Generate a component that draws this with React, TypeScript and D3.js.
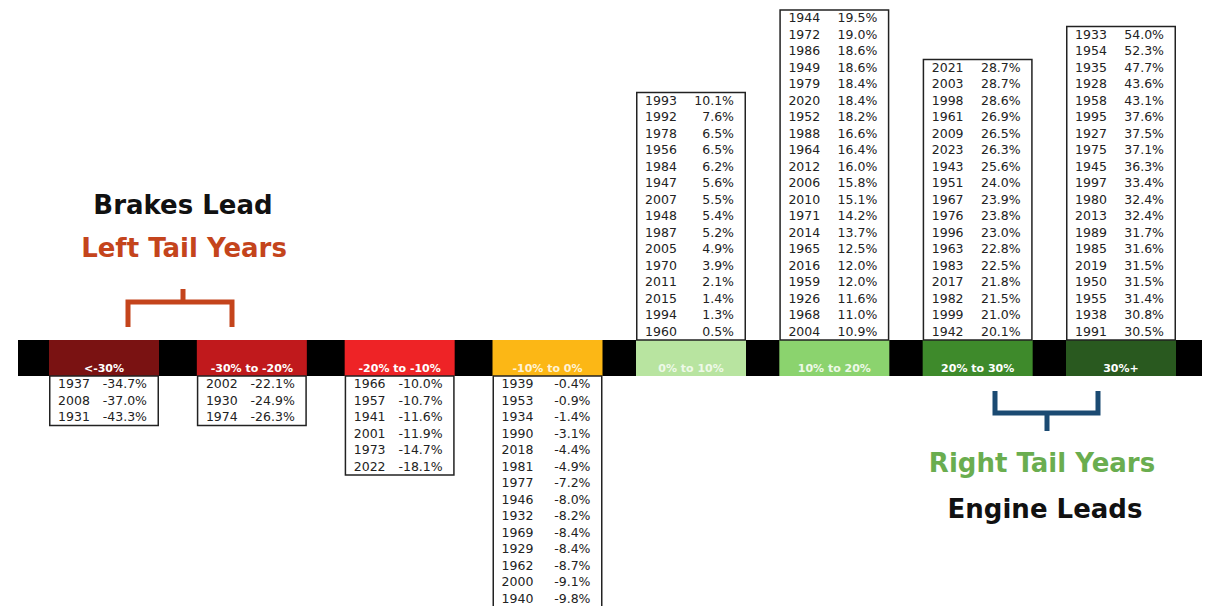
import React from "react";
import * as d3 from "d3";

const W = 1208;
const H = 606;

const categories = ["<-30%", "-30% to -20%", "-20% to -10%", "-10% to 0%", "0% to 10%", "10% to 20%", "20% to 30%", "30%+"];
const catColors = ["#7a1212", "#c0191c", "#ee2326", "#fcb715", "#b8e4a0", "#8bd36e", "#3e8a2b", "#29591f"];
const catTextColors = ["#ffffff", "#ffffff", "#ffffff", "#fff3d6", "#eef9e8", "#eef9e8", "#ffffff", "#ffffff"];

const yearsLt30 = [1937, 2008, 1931];
const retLt30 = [-34.7, -37.0, -43.3];
const years30to20 = [2002, 1930, 1974];
const ret30to20 = [-22.1, -24.9, -26.3];
const years20to10 = [1966, 1957, 1941, 2001, 1973, 2022];
const ret20to10 = [-10.0, -10.7, -11.6, -11.9, -14.7, -18.1];
const years10to0 = [1939, 1953, 1934, 1990, 2018, 1981, 1977, 1946, 1932, 1969, 1929, 1962, 2000, 1940];
const ret10to0 = [-0.4, -0.9, -1.4, -3.1, -4.4, -4.9, -7.2, -8.0, -8.2, -8.4, -8.4, -8.7, -9.1, -9.8];
const years0to10 = [1993, 1992, 1978, 1956, 1984, 1947, 2007, 1948, 1987, 2005, 1970, 2011, 2015, 1994, 1960];
const ret0to10 = [10.1, 7.6, 6.5, 6.5, 6.2, 5.6, 5.5, 5.4, 5.2, 4.9, 3.9, 2.1, 1.4, 1.3, 0.5];
const years10to20 = [1944, 1972, 1986, 1949, 1979, 2020, 1952, 1988, 1964, 2012, 2006, 2010, 1971, 2014, 1965, 2016, 1959, 1926, 1968, 2004];
const ret10to20 = [19.5, 19.0, 18.6, 18.6, 18.4, 18.4, 18.2, 16.6, 16.4, 16.0, 15.8, 15.1, 14.2, 13.7, 12.5, 12.0, 12.0, 11.6, 11.0, 10.9];
const years20to30 = [2021, 2003, 1998, 1961, 2009, 2023, 1943, 1951, 1967, 1976, 1996, 1963, 1983, 2017, 1982, 1999, 1942];
const ret20to30 = [28.7, 28.7, 28.6, 26.9, 26.5, 26.3, 25.6, 24.0, 23.9, 23.8, 23.0, 22.8, 22.5, 21.8, 21.5, 21.0, 20.1];
const years30plus = [1933, 1954, 1935, 1928, 1958, 1995, 1927, 1975, 1945, 1997, 1980, 2013, 1989, 1985, 2019, 1950, 1955, 1938, 1991];
const ret30plus = [54.0, 52.3, 47.7, 43.6, 43.1, 37.6, 37.5, 37.1, 36.3, 33.4, 32.4, 32.4, 31.7, 31.6, 31.5, 31.5, 31.4, 30.8, 30.5];

const bucketYears = [yearsLt30, years30to20, years20to10, years10to0, years0to10, years10to20, years20to30, years30plus];
const bucketReturns = [retLt30, ret30to20, ret20to10, ret10to0, ret0to10, ret10to20, ret20to30, ret30plus];

const FONT = "'DejaVu Sans', sans-serif";

export default function App() {
  // piecewise-linear scale from bucket index to column centre
  const xc = d3.scaleLinear().domain([0, 3, 4, 7]).range([104, 547.5, 691, 1121]);
  const bw = 110;
  const bandTop = 340;
  const bandBottom = 376;
  const rowH = 16.5;
  const row = d3.scaleLinear().domain([0, 1]).range([0, rowH]);
  const fmt = d3.format(".1f");
  const pct = (v: number) => (v < 0 ? "-" : "") + fmt(Math.abs(v)) + "%";

  return (
    <div style={{ position: "absolute", left: 0, top: 0, width: W, height: H, overflow: "hidden", background: "#fff" }}>
      <svg width={W} height={H} style={{ display: "block" }} fontFamily={FONT}>
        <rect x={0} y={0} width={W} height={H} fill="#ffffff" />
        {/* black band */}
        <rect x={18} y={bandTop} width={1184} height={bandBottom - bandTop} fill="#000" />
        {categories.map((c, i) => {
          const cx = xc(i);
          const x0 = cx - bw / 2;
          const ys = bucketYears[i];
          const rs = bucketReturns[i];
          const n = ys.length;
          const positive = rs[0] >= 0;
          const boxTop = positive ? bandTop - row(n) : bandBottom;
          const boxH = row(n);
          return (
            <g key={c}>
              <rect x={x0} y={bandTop} width={bw} height={bandBottom - bandTop} fill={catColors[i]} />
              <text x={cx} y={bandBottom - 4} textAnchor="middle" fontSize={11} fontWeight="bold" fill={catTextColors[i]}>
                {c}
              </text>
              <rect x={x0 + 0.75} y={boxTop} width={bw - 1.5} height={boxH} fill="#fff" stroke="#222" strokeWidth={1.5} />
              {ys.map((yr, j) => {
                const cy = boxTop + row(j) + rowH / 2;
                return (
                  <g key={yr + "-" + j}>
                    <text x={cx - 30} y={cy + 4} textAnchor="middle" fontSize={12.5} fill="#222">
                      {yr}
                    </text>
                    <text x={cx + 43} y={cy + 4} textAnchor="end" fontSize={12.5} fill="#222">
                      {pct(rs[j])}
                    </text>
                  </g>
                );
              })}
            </g>
          );
        })}
        {/* left annotation */}
        <text x={183} y={214} textAnchor="middle" fontSize={26} fontWeight="bold" fill="#111">
          Brakes Lead
        </text>
        <text x={184} y={257} textAnchor="middle" fontSize={26} fontWeight="bold" fill="#c4441c">
          Left Tail Years
        </text>
        <path d="M128,327 L128,302 L232,302 L232,327 M183,302 L183,289" fill="none" stroke="#c4441c" strokeWidth={5} />
        {/* right annotation */}
        <path d="M995,391 L995,413 L1098,413 L1098,391 M1047,413 L1047,431" fill="none" stroke="#1b4a72" strokeWidth={5} />
        <text x={1042} y={472} textAnchor="middle" fontSize={26} fontWeight="bold" fill="#6aad4f">
          Right Tail Years
        </text>
        <text x={1045} y={518} textAnchor="middle" fontSize={26} fontWeight="bold" fill="#111">
          Engine Leads
        </text>
      </svg>
    </div>
  );
}
